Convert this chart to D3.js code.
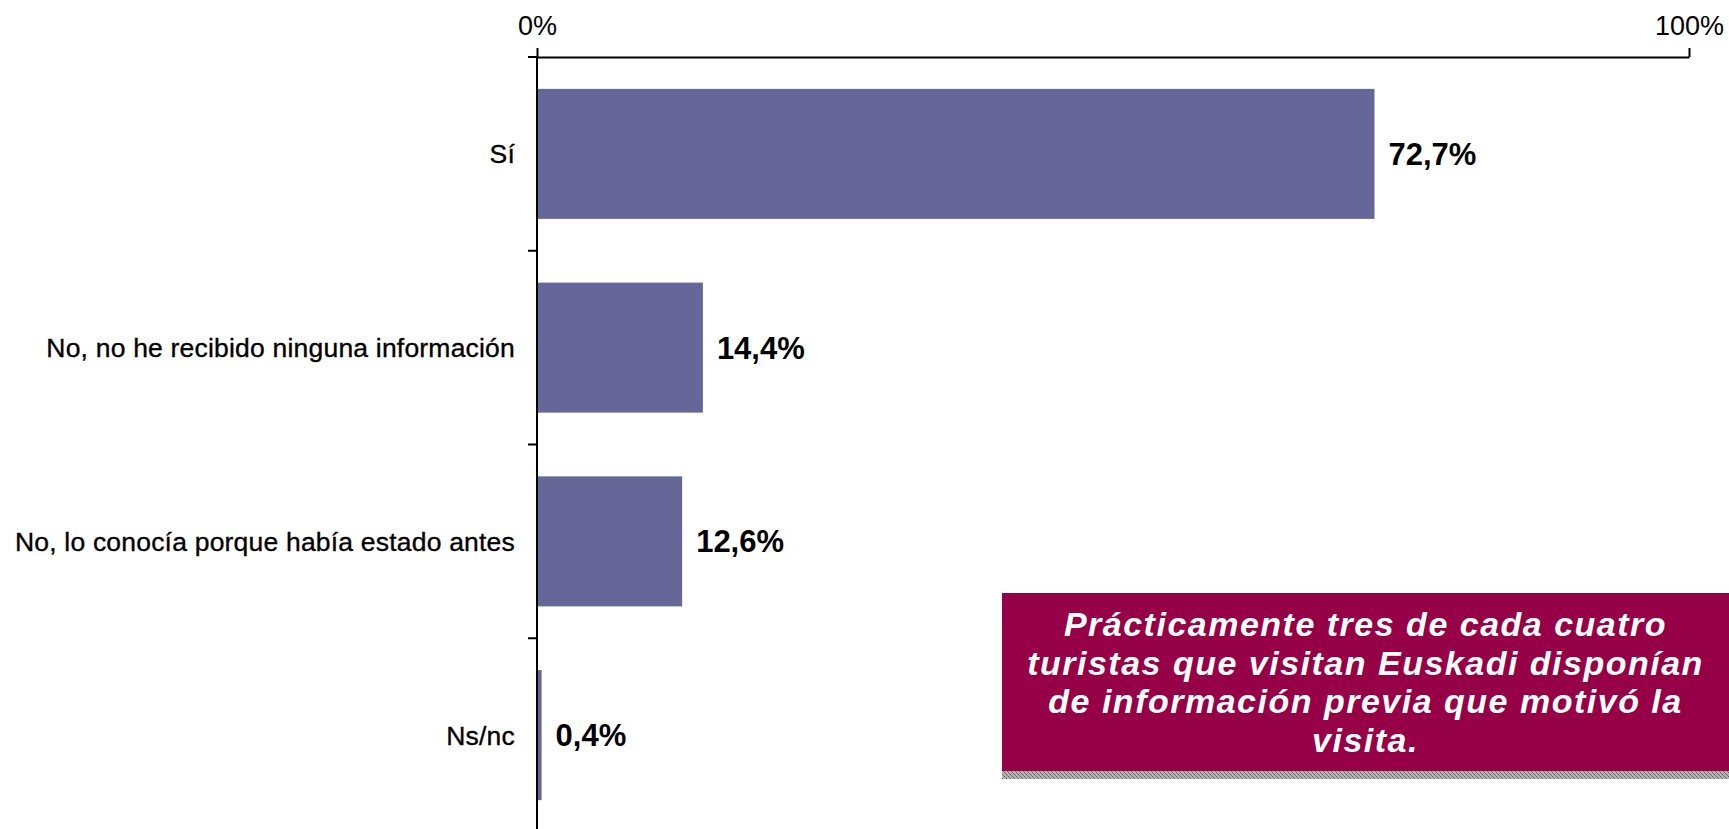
<!DOCTYPE html>
<html>
<head>
<meta charset="utf-8">
<script src="https://cdn.jsdelivr.net/npm/d3@7"></script>
<style>
  html, body { margin: 0; padding: 0; background: #ffffff; }
  svg { display: block; }
  text { font-family: "Liberation Sans", Arial, Helvetica, sans-serif; }
</style>
</head>
<body>
<svg id="chart" width="1729" height="829"></svg>
<script>
// Survey answers and their shares (%)
const categories = [
  "Sí",
  "No, no he recibido ninguna información",
  "No, lo conocía porque había estado antes",
  "Ns/nc"
];
const values = [72.7, 14.4, 12.6, 0.4];
const valueLabels = ["72,7%", "14,4%", "12,6%", "0,4%"];
const axisTicks = [0, 100];
const axisTickLabels = ["0%", "100%"];
const noteLines = [
  "Prácticamente tres de cada cuatro",
  "turistas que visitan Euskadi disponían",
  "de información previa que motivó la",
  "visita."
];

const svg = d3.select("#chart");
const W = 1729, H = 829;

const plot = { left: 537, right: 1689, top: 57, bottom: 832 };
const barColor = "#666699";

const x = d3.scaleLinear().domain([0, 100]).range([plot.left, plot.right]);
const y = d3.scaleBand()
  .domain(categories)
  .range([plot.top, plot.bottom])
  .paddingInner(0.329)
  .paddingOuter(0.329 / 2);

// Bars
svg.append("g").selectAll("rect")
  .data(categories)
  .join("rect")
  .attr("x", x(0))
  .attr("y", d => y(d))
  .attr("width", (d, i) => x(values[i]) - x(0))
  .attr("height", y.bandwidth())
  .attr("fill", barColor);

// Top percentage axis
const xAxis = d3.axisTop(x)
  .tickValues(axisTicks)
  .tickFormat((d, i) => axisTickLabels[i])
  .tickSizeInner(9)
  .tickSizeOuter(0)
  .tickPadding(13);
const gx = svg.append("g")
  .attr("transform", `translate(0,${plot.top})`)
  .call(xAxis);
gx.select(".domain").attr("stroke", "#000").attr("stroke-width", 2);
gx.selectAll(".tick line").attr("stroke", "#000").attr("stroke-width", 2);
gx.selectAll(".tick text")
  .attr("fill", "#000")
  .style("font-size", "27px")
  .style("font-family", "'Liberation Sans', Arial, sans-serif");

// Category axis: vertical line with ticks between categories
const gy = svg.append("g");
gy.append("line")
  .attr("x1", x(0)).attr("x2", x(0))
  .attr("y1", plot.top).attr("y2", H)
  .attr("stroke", "#000").attr("stroke-width", 2);
const step = y.step();
const boundaries = d3.range(categories.length + 1).map(k => plot.top + k * step);
gy.selectAll("line.sep")
  .data(boundaries)
  .join("line")
  .attr("class", "sep")
  .attr("x1", x(0) - 9).attr("x2", x(0))
  .attr("y1", d => d).attr("y2", d => d)
  .attr("stroke", "#000").attr("stroke-width", 2);

// Category labels
gy.selectAll("text")
  .data(categories)
  .join("text")
  .attr("x", x(0) - 22)
  .attr("y", d => y(d) + y.bandwidth() / 2 + 9.5)
  .attr("text-anchor", "end")
  .attr("fill", "#000")
  .attr("stroke", "#000")
  .attr("stroke-width", 0.35)
  .style("font-size", "26.5px")
  .style("letter-spacing", "0.2px")
  .text(d => d);

// Value labels
svg.append("g").selectAll("text")
  .data(categories)
  .join("text")
  .attr("x", (d, i) => x(values[i]) + 14)
  .attr("y", d => y(d) + y.bandwidth() / 2 + 11)
  .attr("fill", "#000")
  .style("font-size", "31px")
  .style("font-weight", "bold")
  .text((d, i) => valueLabels[i]);

// Highlight note box
const note = { x: 1002, y: 593, w: W - 1002, h: 178, shade: 8 };
const defs = svg.append("defs");
const pat = defs.append("pattern")
  .attr("id", "shadeHatch")
  .attr("patternUnits", "userSpaceOnUse")
  .attr("width", 4).attr("height", 4);
pat.append("rect").attr("width", 4).attr("height", 4).attr("fill", "#b4b4b4");
pat.append("rect").attr("x", 0).attr("y", 0).attr("width", 1).attr("height", 1).attr("fill", "#5a5a5a");
pat.append("rect").attr("x", 2).attr("y", 2).attr("width", 1).attr("height", 1).attr("fill", "#5a5a5a");
pat.append("rect").attr("x", 1).attr("y", 1).attr("width", 1).attr("height", 1).attr("fill", "#7a7a7a");
pat.append("rect").attr("x", 3).attr("y", 3).attr("width", 1).attr("height", 1).attr("fill", "#7a7a7a");

const gn = svg.append("g");
gn.append("rect")
  .attr("x", note.x).attr("y", note.y + note.h)
  .attr("width", note.w).attr("height", note.shade)
  .attr("fill", "url(#shadeHatch)");
gn.append("rect")
  .attr("x", note.x).attr("y", note.y)
  .attr("width", note.w).attr("height", note.h)
  .attr("fill", "#960047");
gn.selectAll("text")
  .data(noteLines)
  .join("text")
  .attr("x", note.x + note.w / 2)
  .attr("y", (d, i) => 636 + i * 38.5)
  .attr("text-anchor", "middle")
  .attr("fill", "#ffffff")
  .style("font-size", "34px")
  .style("font-weight", "bold")
  .style("font-style", "italic")
  .style("letter-spacing", "1.5px")
  .text(d => d);
</script>
</body>
</html>
